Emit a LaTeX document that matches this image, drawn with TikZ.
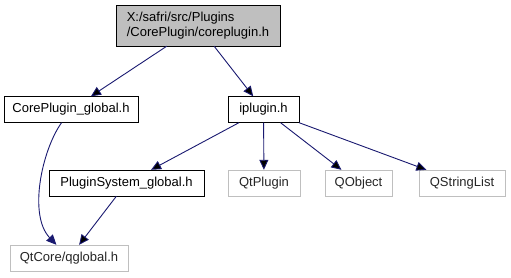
\documentclass[tikz,border=0pt]{standalone}
\usepackage{fontspec}
\setmainfont{Liberation Sans}
\usepackage{xcolor}
\usetikzlibrary{arrows.meta}
\definecolor{bleunuit}{HTML}{191970}
\definecolor{grisclair}{HTML}{BFBFBF}
\tikzset{
    fichier/.style = {draw=black, fill=white, inner sep=0pt, minimum height=26pt,
                      font=\fontsize{13}{15}\selectfont},
    externe/.style = {fichier, draw=grisclair, text=black!85},
    courant/.style = {fichier, fill=grisclair, align=left},
    lien/.style = {->, draw=bleunuit, line width=0.9pt},
    >={Triangle[length=10pt,width=9pt]}
}

\begin{document}
\begin{tikzpicture}[x=1pt, y=-1pt]
                \useasboundingbox (0, 0) rectangle (511, 277);
                \node (coreplugin) [courant, minimum width=164pt, minimum height=41pt] at (198, 25.5)
                    {X:/safri/src/Plugins\\/CorePlugin/coreplugin.h};
                \node (cpglobal) [fichier, minimum width=134pt] at (71, 109.5) {CorePlugin\_global.h};
                \node (iplugin) [fichier, minimum width=71pt] at (263.5, 109.5) {iplugin.h};
                \path[lien] (coreplugin) edge (cpglobal) edge (iplugin);
                \node (psglobal) [fichier, minimum width=155pt] at (126.5, 183) {PluginSystem\_global.h};
                \node (qtplugin) [externe, minimum width=72pt] at (264, 183) {QtPlugin};
                \node (qobject) [externe, minimum width=67pt] at (358.5, 183) {QObject};
                \node (qstringlist) [externe, minimum width=86pt] at (462, 183) {QStringList};
                \path[lien] (iplugin) edge (psglobal) edge (qtplugin) edge (qobject) edge (qstringlist);
                \node (qglobal) [externe, minimum width=118pt] at (69, 258) {QtCore/qglobal.h};
                \path[lien] (psglobal) edge (qglobal);
                \draw[lien] (cpglobal) .. controls (42, 150) and (28, 215) .. (qglobal);
            \end{tikzpicture}
\end{document}
